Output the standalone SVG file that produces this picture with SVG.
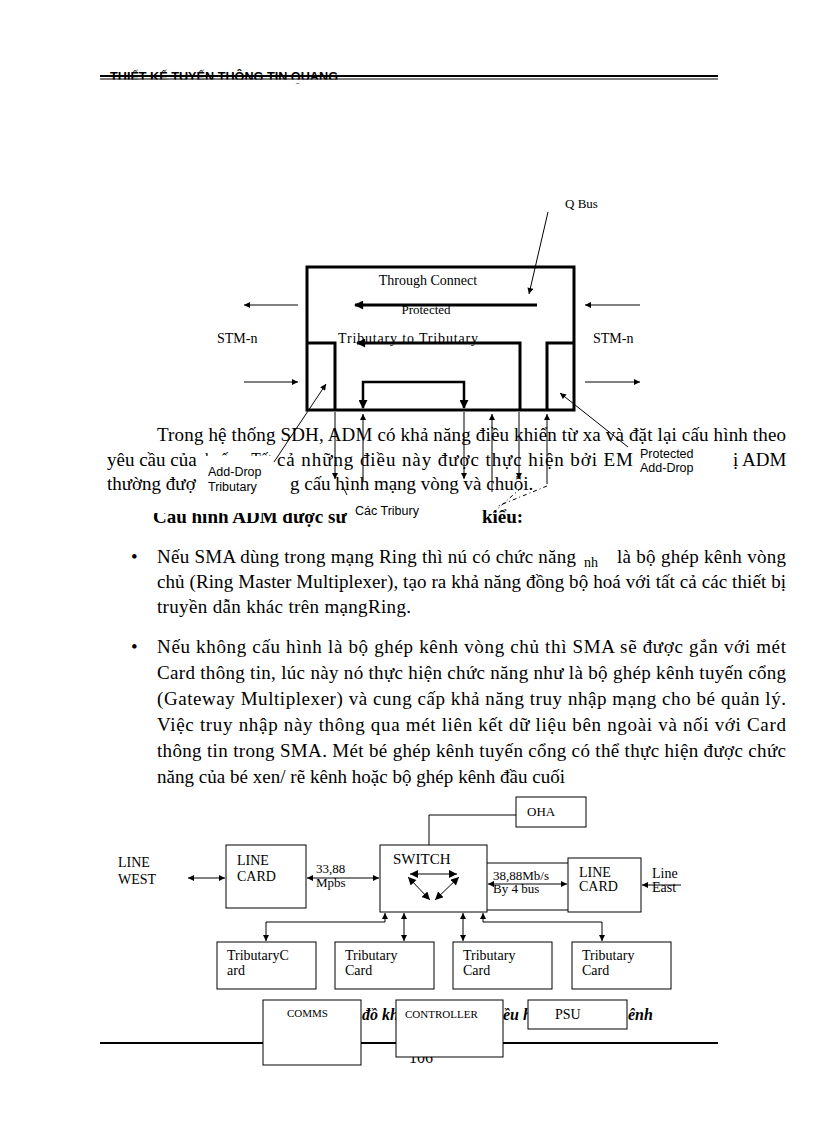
<svg xmlns="http://www.w3.org/2000/svg" width="816" height="1123" viewBox="0 0 816 1123">
<defs>
<marker id="a" viewBox="0 0 10 10" refX="10" refY="5" markerWidth="7" markerHeight="6" markerUnits="userSpaceOnUse" orient="auto-start-reverse"><path d="M0,0 L10,5 L0,10 z" fill="#000"/></marker>
<marker id="b" viewBox="0 0 10 10" refX="9" refY="5" markerWidth="11" markerHeight="9" markerUnits="userSpaceOnUse" orient="auto-start-reverse"><path d="M0,0 L10,5 L0,10 z" fill="#000"/></marker>
<marker id="c" viewBox="0 0 10 10" refX="10" refY="5" markerWidth="9" markerHeight="8" markerUnits="userSpaceOnUse" orient="auto-start-reverse"><path d="M0,0 L10,5 L0,10 z" fill="#000"/></marker>
<clipPath id="cutTop"><rect x="200" y="440" width="80" height="16"/></clipPath>
<style>
.s{font-family:"Liberation Serif","Times New Roman",serif;fill:#000}
.a{font-family:"Liberation Sans",Arial,sans-serif;fill:#000}
.body{font-size:19px}
.ln{stroke:#000;stroke-width:1;fill:none}
.th{stroke:#000;stroke-width:3;fill:none}
.bx{stroke:#000;stroke-width:1;fill:#fff}
.cover{fill:#fff}
.d{font-size:14px}
</style>
</defs>
<rect width="816" height="1123" fill="#fff"/>

<g id="header">
<text class="a" x="110" y="81" font-size="12" font-weight="bold" textLength="228" lengthAdjust="spacingAndGlyphs">THIẾT KẾ TUYẾN THÔNG TIN QUANG</text>
<rect class="cover" x="100" y="79.5" width="620" height="4"/>
<line x1="100" y1="76" x2="718" y2="76" stroke="#000" stroke-width="2"/>
<line x1="100" y1="79" x2="718" y2="79" stroke="#000" stroke-width="1"/>
</g>

<g id="paragraph">
<text class="s body" x="157" y="441" textLength="629" lengthAdjust="spacing">Trong hệ thống SDH, ADM có khả năng điều khiển từ xa và đặt lại cấu hình theo</text>
<text class="s body" x="107" y="466">yêu cầu của</text>
<text class="s body" x="205" y="466" textLength="67" lengthAdjust="spacingAndGlyphs" clip-path="url(#cutTop)">huống. Tất</text>
<text class="s body" x="277" y="466" textLength="356" lengthAdjust="spacing">cả những điều này được thực hiện bởi EM</text>
<text class="s body" x="733" y="466">ị ADM</text>
<text class="s body" x="107" y="490">thường đượ</text>
<text class="s body" x="290" y="490">g cấu hình mạng vòng và chuỗi.</text>
<text class="s body" x="153" y="523" font-weight="bold">Cấu hình ADM được sử</text>
<text class="s body" x="482" y="523" font-weight="bold">kiểu:</text>
</g>

<g id="bullets">
<text class="s body" x="131" y="563">•</text>
<text class="s body" x="157" y="563" textLength="419" lengthAdjust="spacing">Nếu SMA dùng trong mạng Ring thì nú có chức năng</text>
<text class="s" x="584" y="567" font-size="14">nh</text>
<text class="s body" x="617" y="563" textLength="169" lengthAdjust="spacing">là bộ ghép kênh vòng</text>
<text class="s body" x="157" y="588" textLength="629" lengthAdjust="spacing">chủ (Ring Master Multiplexer),  tạo ra khả năng đồng bộ hoá với tất cả các thiết bị</text>
<text class="s body" x="157" y="613" textLength="254" lengthAdjust="spacing">truyền dẫn khác trên mạngRing.</text>
<text class="s body" x="131" y="653">•</text>
<text class="s body" x="157" y="653" textLength="629" lengthAdjust="spacing">Nếu không cấu hình là bộ ghép kênh vòng chủ thì SMA sẽ được gắn với mét</text>
<text class="s body" x="157" y="679" textLength="629" lengthAdjust="spacing">Card thông tin, lúc này nó thực hiện  chức năng như là bộ ghép kênh tuyến cổng</text>
<text class="s body" x="157" y="705" textLength="629" lengthAdjust="spacing">(Gateway Multiplexer)  và cung cấp khả năng truy nhập mạng  cho bé quản lý.</text>
<text class="s body" x="157" y="731" textLength="629" lengthAdjust="spacing">Việc truy nhập này thông qua mét liên kết dữ liệu  bên ngoài và nối với Card</text>
<text class="s body" x="157" y="757" textLength="629" lengthAdjust="spacing">thông tin trong SMA. Mét bé ghép kênh tuyến cổng có thể thực hiện được chức</text>
<text class="s body" x="157" y="783" textLength="408" lengthAdjust="spacing">năng của bé xen/ rẽ kênh hoặc bộ ghép kênh đầu cuối</text>
</g>

<g id="adm-box">
<rect x="307" y="267" width="267" height="143" class="th"/>
<path d="M307,343 H335 V410" class="th"/>
<path d="M574,343 H547 V410" class="th"/>
<text class="s" x="428" y="285" font-size="14" text-anchor="middle">Through Connect</text>
<text class="s" x="426" y="314" font-size="13" text-anchor="middle">Protected</text>
<text class="s" x="338" y="343" font-size="14" textLength="140" lengthAdjust="spacing">Tributary  to Tributary</text>
</g>

<g id="stm-left">
<text class="s" x="217" y="343" font-size="14">STM-n</text>
</g>
<g id="stm-right">
<text class="s" x="593" y="343" font-size="14">STM-n</text>
</g>
<g id="qbus">
<text class="s" x="565" y="208" font-size="13">Q Bus</text>
</g>

<g id="covers">
<rect class="cover" x="206" y="470" width="84" height="28"/>
<rect class="cover" x="634" y="445" width="98" height="30"/>
<rect class="cover" x="150" y="498" width="330" height="15"/>
<rect class="cover" x="349" y="498" width="131" height="32"/>
</g>

<g id="label-adddrop-trib">
<text class="a" x="208" y="476" font-size="12.5">Add-Drop</text>
<text class="a" x="208" y="491" font-size="12.5">Tributary</text>
</g>
<g id="label-protected-adddrop">
<text class="a" x="640" y="458" font-size="12.5">Protected</text>
<text class="a" x="640" y="472" font-size="12.5">Add-Drop</text>
</g>
<g id="label-cac-tribury">
<text class="a" x="355" y="515" font-size="12.5">Các Tribury</text>
</g>

<g id="connectors-top">
<line x1="537" y1="305" x2="355" y2="305" stroke="#000" stroke-width="3" marker-end="url(#b)"/>
<path d="M520,410 V343 H357" class="th" marker-end="url(#b)"/>
<path d="M363,408 V382 H464 V408" stroke="#000" stroke-width="2.5" fill="none" marker-start="url(#b)" marker-end="url(#b)"/>
<line x1="298" y1="305" x2="244" y2="305" class="ln" marker-end="url(#a)"/>
<line x1="244" y1="382" x2="298" y2="382" class="ln" marker-end="url(#a)"/>
<line x1="640" y1="305" x2="585" y2="305" class="ln" marker-end="url(#a)"/>
<line x1="585" y1="382" x2="640" y2="382" class="ln" marker-end="url(#a)"/>
<line x1="548" y1="212" x2="529" y2="294" class="ln" marker-end="url(#a)"/>
<line x1="274" y1="462" x2="326" y2="384" class="ln" marker-end="url(#a)"/>
<line x1="628" y1="447" x2="560" y2="393" class="ln" marker-end="url(#a)"/>
<line x1="335" y1="412" x2="335" y2="479" class="ln" marker-end="url(#a)"/>
<line x1="363" y1="482" x2="363" y2="414" class="ln" marker-end="url(#a)"/>
<line x1="464" y1="412" x2="464" y2="479" class="ln" marker-end="url(#a)"/>
<line x1="492" y1="492" x2="492" y2="414" class="ln" marker-end="url(#a)"/>
<line x1="519" y1="412" x2="519" y2="479" class="ln" marker-end="url(#a)"/>
<line x1="547" y1="484" x2="547" y2="414" class="ln" marker-end="url(#a)"/>
<line x1="343" y1="487" x2="347" y2="495" class="ln"/>
<line x1="547" y1="486" x2="498" y2="506" class="ln" stroke-dasharray="4 3 1 3"/>
<line x1="521" y1="488" x2="487" y2="518" class="ln" stroke-dasharray="4 3 1 3"/>
</g>

<g id="caption-footer">
<text class="s" x="362" y="1020" font-size="16" font-weight="bold" font-style="italic">đồ khối</text>
<text class="s" x="503" y="1020" font-size="16" font-weight="bold" font-style="italic">ều hà</text>
<text class="s" x="628" y="1020" font-size="16" font-weight="bold" font-style="italic">ênh</text>
<line x1="100" y1="1043" x2="718" y2="1043" stroke="#000" stroke-width="2"/>
<text class="s" x="409" y="1063" font-size="16">106</text>
</g>

<g id="oha"><rect class="bx" x="516" y="797" width="70" height="30"/><text class="s" x="527" y="816" font-size="13">OHA</text></g>
<g id="line-west"><text class="s d" x="118" y="867">LINE</text><text class="s d" x="118" y="884">WEST</text></g>
<g id="linecard-left"><rect class="bx" x="226" y="845" width="80" height="63"/><text class="s d" x="237" y="865">LINE</text><text class="s d" x="237" y="881">CARD</text></g>
<g id="switch"><rect class="bx" x="380" y="845" width="107" height="67"/><text class="s" x="393" y="864" font-size="15">SWITCH</text></g>
<g id="linecard-right"><rect class="bx" x="568" y="858" width="73" height="54"/><text class="s d" x="579" y="877">LINE</text><text class="s d" x="579" y="891">CARD</text></g>
<g id="line-east"><text class="s d" x="652" y="878">Line</text><text class="s d" x="652" y="892">East</text></g>
<g id="trib1"><rect class="bx" x="217" y="942" width="99" height="47"/><text class="s d" x="227" y="960">TributaryC</text><text class="s d" x="227" y="975">ard</text></g>
<g id="trib2"><rect class="bx" x="335" y="942" width="99" height="47"/><text class="s d" x="345" y="960">Tributary</text><text class="s d" x="345" y="975">Card</text></g>
<g id="trib3"><rect class="bx" x="453" y="942" width="99" height="47"/><text class="s d" x="463" y="960">Tributary</text><text class="s d" x="463" y="975">Card</text></g>
<g id="trib4"><rect class="bx" x="572" y="942" width="99" height="47"/><text class="s d" x="582" y="960">Tributary</text><text class="s d" x="582" y="975">Card</text></g>
<g id="comms"><rect class="bx" x="263" y="1000" width="98" height="65"/><text class="s" x="287" y="1017" font-size="11">COMMS</text></g>
<g id="controller"><rect class="bx" x="396" y="1000" width="107" height="57"/><text class="s" x="405" y="1018" font-size="11">CONTROLLER</text></g>
<g id="psu"><rect class="bx" x="528" y="1000" width="99" height="29"/><text class="s d" x="555" y="1019">PSU</text></g>

<g id="connectors-bottom">
<path d="M516,815 H429 V845" class="ln"/>
<line x1="188" y1="878" x2="225" y2="878" class="ln" marker-start="url(#a)" marker-end="url(#a)"/>
<line x1="307" y1="878" x2="379" y2="878" class="ln" marker-start="url(#a)" marker-end="url(#a)"/>
<text class="s" x="316" y="873" font-size="13">33,88</text>
<text class="s" x="316" y="887" font-size="13">Mpbs</text>
<line x1="487" y1="863" x2="568" y2="863" class="ln"/>
<line x1="487" y1="910" x2="568" y2="910" class="ln"/>
<line x1="488" y1="884" x2="567" y2="884" class="ln" marker-start="url(#a)" marker-end="url(#a)"/>
<text class="s" x="493" y="880" font-size="13">38,88Mb/s</text>
<text class="s" x="493" y="893" font-size="13">By 4 bus</text>
<line x1="681" y1="885" x2="642" y2="885" class="ln" marker-end="url(#a)"/>
<line x1="410" y1="874" x2="457" y2="874" class="ln" marker-start="url(#c)" marker-end="url(#c)"/>
<line x1="408" y1="877" x2="430" y2="900" class="ln" marker-start="url(#c)" marker-end="url(#c)"/>
<line x1="459" y1="877" x2="435" y2="900" class="ln" marker-start="url(#c)" marker-end="url(#c)"/>
<path d="M385,913 V922 H266 V941" class="ln" marker-start="url(#a)" marker-end="url(#a)"/>
<line x1="404" y1="913" x2="404" y2="941" class="ln" marker-start="url(#a)" marker-end="url(#a)"/>
<line x1="463" y1="913" x2="463" y2="941" class="ln" marker-start="url(#a)" marker-end="url(#a)"/>
<path d="M483,913 V922 H602 V941" class="ln" marker-start="url(#a)" marker-end="url(#a)"/>
</g>
</svg>
